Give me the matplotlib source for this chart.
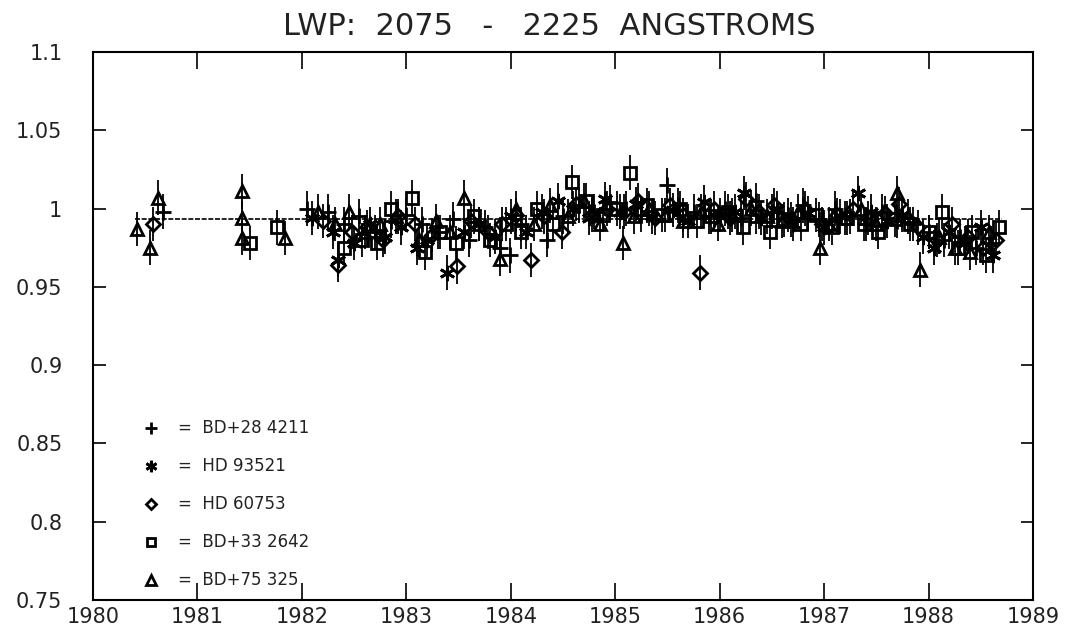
import matplotlib
matplotlib.use('Agg')
import matplotlib.pyplot as plt

# BD+28 4211 (plus)
plus_x = [1980.67, 1982.05, 1982.25, 1982.4, 1982.55, 1982.7, 1982.85, 1983.0, 1983.15, 1983.3,
          1983.45, 1983.6, 1983.75, 1983.9, 1983.99, 1984.1, 1984.35, 1984.5, 1984.65, 1984.8,
          1984.95, 1985.1, 1985.25, 1985.5, 1985.6, 1985.75, 1985.9, 1986.05, 1986.2, 1986.35,
          1986.5, 1986.65, 1986.8, 1986.95, 1987.1, 1987.25, 1987.4, 1987.55, 1987.7, 1987.85,
          1988.0, 1988.15, 1988.3, 1988.45, 1988.6]
plus_y = [0.998, 1.0, 0.998, 0.99, 0.995, 0.985, 0.992, 0.996, 0.99, 0.985,
          0.993, 0.98, 0.988, 0.975, 0.97, 0.99, 0.98, 0.995, 1.002, 0.998,
          1.004, 1.0, 0.996, 1.015, 1.002, 0.998, 0.995, 1.0, 0.994, 1.005,
          0.998, 0.996, 1.002, 0.993, 1.0, 0.995, 0.99, 0.998, 0.992, 0.99,
          0.985, 0.98, 0.982, 0.975, 0.978]

# HD 93521 (asterisk)
star_x = [1982.1, 1982.3, 1982.35, 1982.5, 1982.65, 1982.8, 1982.95, 1983.1, 1983.2, 1983.39,
          1983.55, 1983.7, 1983.85, 1984.0, 1984.15, 1984.3, 1984.45, 1984.6, 1984.75, 1984.9,
          1985.05, 1985.2, 1985.35, 1985.55, 1985.7, 1985.85, 1986.0, 1986.15, 1986.23, 1986.4,
          1986.55, 1986.7, 1986.85, 1987.0, 1987.15, 1987.32, 1987.45, 1987.6, 1987.75, 1987.95,
          1988.05, 1988.2, 1988.35, 1988.5, 1988.62]
star_y = [0.994, 0.985, 0.967, 0.978, 0.99, 0.982, 0.988, 0.975, 0.98, 0.959,
          0.985, 0.99, 0.982, 0.995, 0.985, 0.998, 1.005, 1.0, 0.994, 1.006,
          0.998, 1.003, 0.995, 0.999, 0.992, 1.004, 0.996, 0.998, 1.01, 0.994,
          1.0, 0.99, 0.997, 0.988, 0.995, 1.01, 0.998, 0.992, 0.996, 0.982,
          0.975, 0.985, 0.978, 0.988, 0.97]

# HD 60753 (diamond)
diam_x = [1980.57, 1982.2, 1982.35, 1982.48, 1982.62, 1982.78, 1982.92, 1983.08, 1983.25, 1983.49,
          1983.62, 1983.78, 1983.92, 1984.05, 1984.19, 1984.32, 1984.49, 1984.62, 1984.78, 1984.92,
          1985.08, 1985.22, 1985.38, 1985.52, 1985.65, 1985.81, 1985.95, 1986.1, 1986.25, 1986.38,
          1986.52, 1986.68, 1986.82, 1986.98, 1987.12, 1987.28, 1987.42, 1987.58, 1987.72, 1987.9,
          1988.08, 1988.22, 1988.38, 1988.52, 1988.65]
diam_y = [0.99, 0.992, 0.964, 0.985, 0.988, 0.98, 0.995, 0.99, 0.983, 0.963,
          0.992, 0.985, 0.99, 0.996, 0.967, 0.995, 0.985, 1.003, 0.996, 1.0,
          0.998, 1.005, 0.994, 1.002, 0.996, 0.959, 1.0, 0.994, 1.006, 0.998,
          1.002, 0.993, 1.0, 0.99, 0.996, 1.0, 0.994, 0.997, 1.003, 0.988,
          0.98, 0.99, 0.982, 0.975, 0.98]

# BD+33 2642 (square)
sq_x = [1981.5, 1981.76, 1982.4, 1982.58, 1982.72, 1982.85, 1983.05, 1983.18, 1983.32, 1983.48,
        1983.65, 1983.8, 1983.95, 1984.1, 1984.25, 1984.4, 1984.59, 1984.72, 1984.88, 1985.02,
        1985.14, 1985.3, 1985.45, 1985.62, 1985.78, 1985.92, 1986.08, 1986.22, 1986.35, 1986.48,
        1986.62, 1986.78, 1986.92, 1987.08, 1987.22, 1987.38, 1987.52, 1987.68, 1987.82, 1988.0,
        1988.13, 1988.28, 1988.42, 1988.55, 1988.67]
sq_y = [0.978, 0.988, 0.975, 0.98, 0.978, 1.0, 1.007, 0.972, 0.985, 0.978,
        0.995, 0.98, 0.99, 0.985, 1.0, 0.99, 1.017, 1.005, 0.996, 1.0,
        1.023, 1.002, 0.996, 1.0, 0.992, 0.995, 0.998, 0.988, 0.995, 0.985,
        0.993, 0.99, 0.996, 0.988, 0.994, 0.99, 0.985, 0.993, 0.99, 0.985,
        0.998, 0.975, 0.985, 0.97, 0.988]

# BD+75 325 (triangle)
tri_x = [1980.42, 1980.55, 1980.62, 1981.43, 1981.43, 1981.43, 1981.84, 1982.15, 1982.32, 1982.45,
         1982.6, 1982.75, 1982.9, 1983.12, 1983.28, 1983.42, 1983.55, 1983.7, 1983.9, 1984.05,
         1984.22, 1984.38, 1984.55, 1984.7, 1984.85, 1985.07, 1985.18, 1985.32, 1985.48, 1985.65,
         1985.82, 1985.98, 1986.12, 1986.3, 1986.45, 1986.6, 1986.75, 1986.96, 1987.05, 1987.2,
         1987.35, 1987.5, 1987.7, 1987.8, 1987.92, 1988.1, 1988.25, 1988.4, 1988.58]
tri_y = [0.987, 0.975, 1.007, 1.011, 0.994, 0.981, 0.981, 0.998, 0.99, 0.998,
         0.985, 0.99, 0.995, 0.98, 0.992, 0.985, 1.007, 0.99, 0.968, 1.0,
         0.99, 1.002, 0.995, 1.005, 0.99, 0.978, 0.995, 1.0, 0.996, 0.992,
         0.998, 0.99, 0.996, 1.0, 0.995, 0.992, 0.998, 0.975, 0.99, 0.994,
         1.0, 0.99, 1.01, 0.995, 0.961, 0.982, 0.975, 0.972, 0.985]

# error bar half-width, mean level and span of mean line
err = 0.011
mean_level = 0.993
mean_span = [1980.4, 1988.7]

names = ['BD+28 4211', 'HD 93521', 'HD 60753', 'BD+33 2642', 'BD+75 325']
x_ticks = [1980, 1981, 1982, 1983, 1984, 1985, 1986, 1987, 1988, 1989]
y_ticks = [0.75, 0.8, 0.85, 0.9, 0.95, 1.0, 1.05, 1.1]
y_labels = ['0.75', '0.8', '0.85', '0.9', '0.95', '1', '1.05', '1.1']

fig = plt.figure(figsize=(10.75, 6.38), dpi=100)
ax = fig.add_axes([0.0865, 0.0596, 0.8744, 0.859])

ax.plot(mean_span, [mean_level, mean_level], color='black', lw=1.2, ls=(0, (3, 1)), zorder=1)

series = [
    (plus_x, plus_y, '+', 11),
    (star_x, star_y, (6, 2, 0), 11),
    (diam_x, diam_y, 'D', 7),
    (sq_x, sq_y, 's', 8),
    (tri_x, tri_y, '^', 9),
]
handles = []
for (xs, ys, mk, ms), name in zip(series, names):
    ax.errorbar(xs, ys, yerr=err, fmt='none', ecolor='black', elinewidth=1.3, zorder=2)
    ln, = ax.plot(xs, ys, ls='none', marker=mk, ms=ms, mfc='none', mec='black',
                  mew=2.0, color='black', zorder=3)
    handles.append(ln)

leg = ax.legend(handles, ['=  ' + n for n in names], loc='lower left',
                bbox_to_anchor=(0.035, -0.008), frameon=False, fontsize=12,
                labelspacing=1.2, handlelength=1.2, handletextpad=1.0,
                markerscale=0.75)
for t in leg.get_texts():
    t.set_color('#222222')

ax.set_xlim(1980, 1989)
ax.set_ylim(0.75, 1.1)
ax.set_xticks(x_ticks)
ax.set_yticks(y_ticks)
ax.set_yticklabels(y_labels)
ax.tick_params(axis='x', direction='in', length=12, width=1.2, top=True, labelsize=15,
               pad=5, colors='black', labelcolor='#222222')
ax.tick_params(axis='y', direction='in', length=9, width=1.2, right=True, labelsize=15,
               pad=22, colors='black', labelcolor='#222222')
for s in ax.spines.values():
    s.set_linewidth(1.5)

ax.set_title('LWP:  2075   -   2225  ANGSTROMS', fontsize=22, color='#222222', pad=12, x=0.485)

fig.savefig('out.png', dpi=100)
